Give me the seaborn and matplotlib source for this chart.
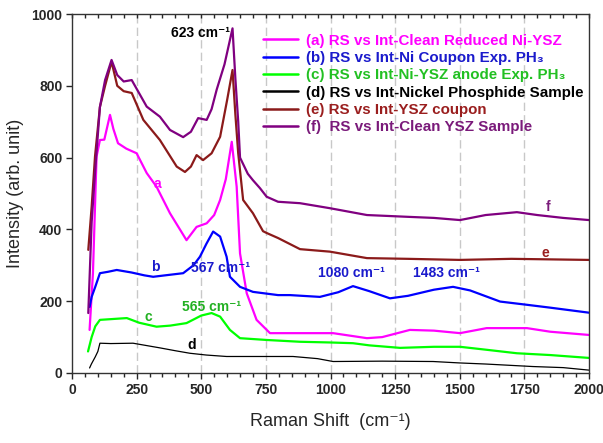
import numpy as np
import pandas as pd
import matplotlib
matplotlib.use("Agg")
import matplotlib.pyplot as plt
import seaborn as sns
from matplotlib.ticker import MultipleLocator

# ---- data ----
x_a = [68, 81, 95, 108, 125, 147, 160, 178, 210, 250, 289, 327, 379, 443, 482, 521, 550, 573, 595, 618,
       637, 650, 676, 714, 766, 882, 1010, 1141, 1200, 1307, 1400, 1501, 1604, 1760, 1850, 2000]
y_a = [120, 278, 603, 649, 650, 719, 680, 640, 625, 612, 557, 519, 445, 370, 407, 417, 440, 482, 540, 644,
       519, 333, 222, 148, 111, 111, 111, 97, 100, 120, 118, 111, 125, 125, 115, 106]

x_b = [68, 76, 90, 108, 140, 173, 230, 280, 314, 360, 430, 470, 495, 520, 546, 573, 598, 611, 650, 700,
       797, 843, 959, 1030, 1087, 1150, 1230, 1300, 1400, 1474, 1540, 1656, 1760, 1850, 2000]
y_b = [184, 212, 240, 278, 282, 287, 280, 272, 268, 272, 278, 300, 324, 360, 394, 380, 324, 268, 240, 226,
       217, 217, 212, 225, 242, 228, 208, 215, 232, 240, 230, 199, 190, 182, 168]

x_c = [62, 76, 90, 108, 150, 212, 260, 327, 380, 443, 500, 540, 573, 611, 650, 753, 882, 1000, 1087, 1150,
       1269, 1400, 1501, 1600, 1721, 1850, 2000]
y_c = [60, 100, 130, 148, 150, 153, 140, 129, 132, 139, 160, 167, 157, 120, 97, 92, 87, 85, 83, 77,
       70, 73, 73, 65, 55, 50, 42]

x_d = [68, 75, 90, 100, 108, 150, 236, 300, 340, 400, 456, 520, 598, 700, 855, 950, 1010, 1200, 1397, 1500,
       1600, 1783, 1900, 2000]
y_d = [14, 25, 45, 60, 83, 82, 83, 75, 70, 62, 55, 50, 46, 46, 46, 40, 32, 33, 32, 28,
       25, 18, 15, 8]

x_e = [63, 76, 89, 108, 128, 153, 175, 200, 231, 276, 340, 405, 437, 460, 482, 507, 540, 573, 600, 621,
       632, 643, 662, 700, 739, 753, 797, 882, 998, 1141, 1300, 1501, 1700, 1800, 2000]
y_e = [343, 463, 603, 741, 800, 867, 800, 785, 780, 705, 649, 575, 560, 575, 607, 593, 612, 658, 760, 844,
       720, 612, 482, 445, 395, 390, 376, 345, 338, 320, 318, 315, 318, 317, 315]

x_f = [63, 76, 89, 108, 128, 153, 175, 200, 231, 289, 340, 379, 430, 460, 488, 521, 540, 560, 590, 621,
       632, 643, 650, 680, 700, 727, 753, 797, 882, 998, 1141, 1300, 1400, 1501, 1600, 1721, 1800, 1900, 2000]
y_f = [167, 420, 557, 741, 816, 872, 830, 812, 816, 742, 714, 677, 657, 672, 710, 705, 735, 790, 860, 960,
       820, 700, 600, 555, 537, 515, 491, 477, 473, 459, 440, 435, 432, 426, 440, 448, 440, 432, 426]

labels = ["(a) RS vs Int-Clean Reduced Ni-YSZ",
          "(b) RS vs Int-Ni Coupon Exp. PH\u2083",
          "(c) RS vs Int-Ni-YSZ anode Exp. PH\u2083",
          "(d) RS vs Int-Nickel Phosphide Sample",
          "(e) RS vs Int-YSZ coupon",
          "(f)  RS vs Int-Clean YSZ Sample"]
line_colors = ["#FF00FF", "#0000FF", "#00FF00", "#000000", "#8B1A1A", "#800080"]
text_colors = ["#FF00FF", "#1A1ACC", "#22C022", "#000000", "#9A1E1E", "#7A1A7A"]
widths = [1.6, 1.6, 1.6, 0.9, 1.6, 1.6]

series = [(x_a, y_a), (x_b, y_b), (x_c, y_c), (x_d, y_d), (x_e, y_e), (x_f, y_f)]

sns.set_style("white")
plt.rcParams['font.family'] = ['Liberation Sans', 'DejaVu Sans']

fig = plt.figure(figsize=(6.03, 4.43), dpi=100)
ax = fig.add_axes([72/603, (443-373)/443, 517/603, 359/443])

for (xs, ys), lab, col, lw in zip(series, labels, line_colors, widths):
    df = pd.DataFrame({"x": xs, "y": ys})
    sns.lineplot(data=df, x="x", y="y", ax=ax, color=col, linewidth=lw, label=lab, sort=False)

ax.set_xlim(0, 2000)
ax.set_ylim(0, 1000)

for gx in [250, 500, 750, 1000, 1250, 1500, 1750]:
    ax.axvline(gx, color="#C8C8C8", linestyle=(0, (6, 3)), linewidth=1.0, zorder=0)

ax.xaxis.set_major_locator(MultipleLocator(250))
ax.xaxis.set_minor_locator(MultipleLocator(50))
ax.yaxis.set_major_locator(MultipleLocator(200))
ax.tick_params(axis='x', which='both', direction='out', bottom=True, top=False)
ax.tick_params(axis='x', which='major', length=4, width=1)
ax.tick_params(axis='x', which='minor', length=3, width=1)
ax.tick_params(axis='y', which='major', direction='out', left=True, right=False, length=4, width=1)
ax.tick_params(labelsize=10, pad=3)
for t in ax.get_xticklabels() + ax.get_yticklabels():
    t.set_fontweight('bold')

# top inward ticks
sec = ax.secondary_xaxis('top')
sec.xaxis.set_major_locator(MultipleLocator(250))
sec.xaxis.set_minor_locator(MultipleLocator(50))
sec.tick_params(axis='x', which='both', direction='in', length=3, width=1, labeltop=False)
sec.spines['top'].set_visible(False)

for s in ax.spines.values():
    s.set_color("#333333")
    s.set_linewidth(1.0)

ax.set_xlabel("Raman Shift  (cm\u207b\u00b9)", fontsize=13, labelpad=12)
ax.set_ylabel("Intensity (arb. unit)", fontsize=13, labelpad=5)

leg = ax.legend(loc='upper left', bbox_to_anchor=(0.37, 0.945), frameon=False,
                handlelength=2.3, handletextpad=0.5, labelspacing=0.22,
                borderpad=0, borderaxespad=0, prop={'weight': 'bold', 'size': 10.9})
for txt, c in zip(leg.get_texts(), text_colors):
    txt.set_color(c)
for h in leg.get_lines():
    h.set_linewidth(1.8)

ann = [("623 cm\u207b\u00b9", 499, 947, "#000000"),
       ("a", 329, 526, "#FF00FF"),
       ("b", 321, 295, "#1A1ACC"),
       ("567 cm\u207b\u00b9", 573, 292, "#1A1ACC"),
       ("1080 cm\u207b\u00b9", 1082, 278, "#1A1ACC"),
       ("1483 cm\u207b\u00b9", 1449, 278, "#1A1ACC"),
       ("c", 294, 157, "#22B022"),
       ("565 cm\u207b\u00b9", 540, 185, "#22B022"),
       ("d", 463, 78, "#000000"),
       ("e", 1830, 334, "#9A1E1E"),
       ("f", 1841, 463, "#7A1A7A")]
for s, xx, yy, c in ann:
    ax.text(xx, yy, s, color=c, fontsize=10, fontweight='bold', ha='center', va='center')

fig.savefig("out.png", dpi=100)
